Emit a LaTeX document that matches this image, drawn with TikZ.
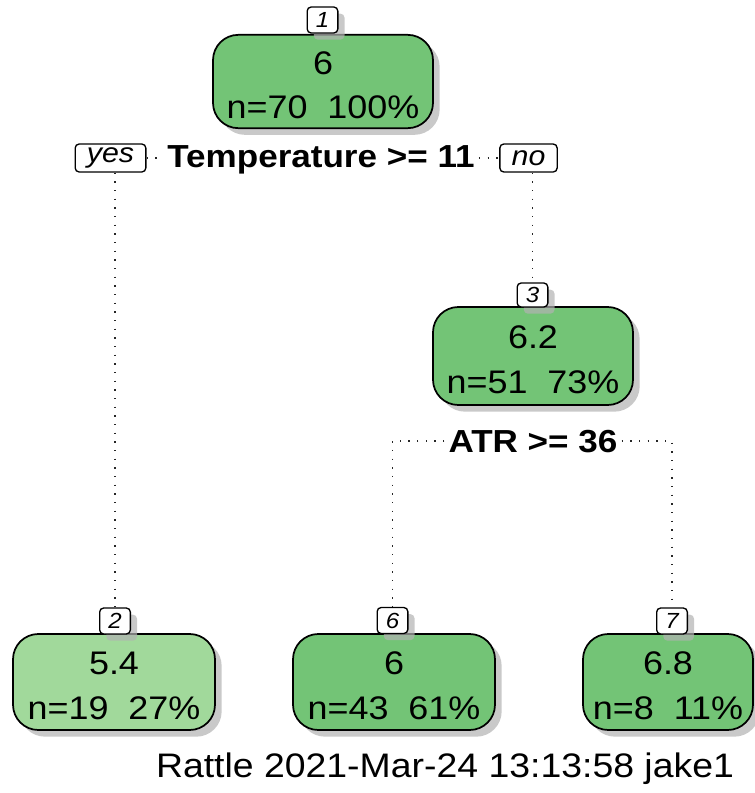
\documentclass[tikz,border=0pt]{standalone}
\usepackage{fontspec}
\setmainfont[FakeStretch=1.1]{Liberation Sans}
\usetikzlibrary{shadows}
\definecolor{gA}{HTML}{73C476}
\definecolor{gB}{HTML}{A1D99B}
\newcommand{\twolines}[2]{\raisebox{-4.5pt}[\height][\depth]{\begin{tabular}{@{}c@{}}#1\\#2\end{tabular}}}
\tikzset{
  shad/.style={drop shadow={shadow xshift=5pt, shadow yshift=-5pt, fill=black!30, opacity=0.7}},
  treebox/.style={shad, draw=black, line width=1.3pt, rounded corners=19pt,
    inner sep=0pt, font=\fontsize{24.5}{33.5}\selectfont},
  nnum/.style={shad, draw=black, fill=white, line width=1pt, rounded corners=3pt,
    minimum width=23pt, minimum height=19.5pt, inner sep=0pt, font=\itshape\fontsize{16.4}{16.4}\selectfont},
  yn/.style={draw=black, fill=white, line width=1pt, rounded corners=3pt,
    minimum height=21pt, inner sep=0pt, font=\itshape\fontsize{20.7}{20.7}\selectfont},
  splitlab/.style={fill=white, inner xsep=3pt, inner ysep=4pt, text height=17pt, text depth=0pt,
    font=\bfseries\fontsize{23.9}{23.9}\selectfont},
  dots/.style={line width=1.1pt, dash pattern=on 1.1pt off 5.4pt, black!85},
}
\begin{document}
\begin{tikzpicture}[x=0.75pt, y=-0.75pt]
\useasboundingbox (0,0) rectangle (755,793);
% nodes
\node[treebox, fill=gA, minimum width=165pt, minimum height=70pt] (n1) at (323,81.5) {\twolines{6}{n=70~~100\%}};
\node[nnum, minimum height=19.5pt] (num1) at (322.5,20) {1};
\node[treebox, fill=gA, minimum width=150pt, minimum height=73.5pt] (n3) at (533,356) {\twolines{6.2}{n=51~~73\%}};
\node[nnum, minimum height=18pt] (num3) at (532.5,295) {3};
\node[treebox, fill=gB, minimum width=151.5pt, minimum height=72pt] (n2) at (114,682) {\twolines{5.4}{n=19~~27\%}};
\node[nnum] (num2) at (115,621) {2};
\node[treebox, fill=gA, minimum width=151.5pt, minimum height=72pt] (n6) at (394,682) {\twolines{6}{n=43~~61\%}};
\node[nnum] (num6) at (392.5,620.5) {6};
\node[treebox, fill=gA, minimum width=127.5pt, minimum height=72pt] (n7) at (668,682) {\twolines{6.8}{n=8~~11\%}};
\node[nnum] (num7) at (672,621) {7};
% split labels
\node[splitlab] (s1) at (321,156) {Temperature >= 11};
\node[splitlab] (s2) at (533,441) {ATR >= 36};
\node[yn, minimum width=53pt] (yes) at (110.5,158) {yes};
\node[yn, minimum width=43pt] (no) at (528.5,158) {no};
% connectors
\draw[dots] (yes.east) -- (yes.east -| s1.west);
\draw[dots] (no.west -| s1.east) -- (no.west);
\draw[dots] (yes.south -| num2.north) -- (num2.north);
\draw[dots] (no.south -| num3.north) -- (num3.north);
\draw[dots] (s2.west) -| (num6.north);
\draw[dots] (s2.east) -| (num7.north);
% footer
\node[anchor=base, font=\fontsize{25.5}{25.5}\selectfont, inner sep=0pt] (foot) at (445,777) {Rattle 2021-Mar-24 13:13:58 jake1};
\end{tikzpicture}
\end{document}
